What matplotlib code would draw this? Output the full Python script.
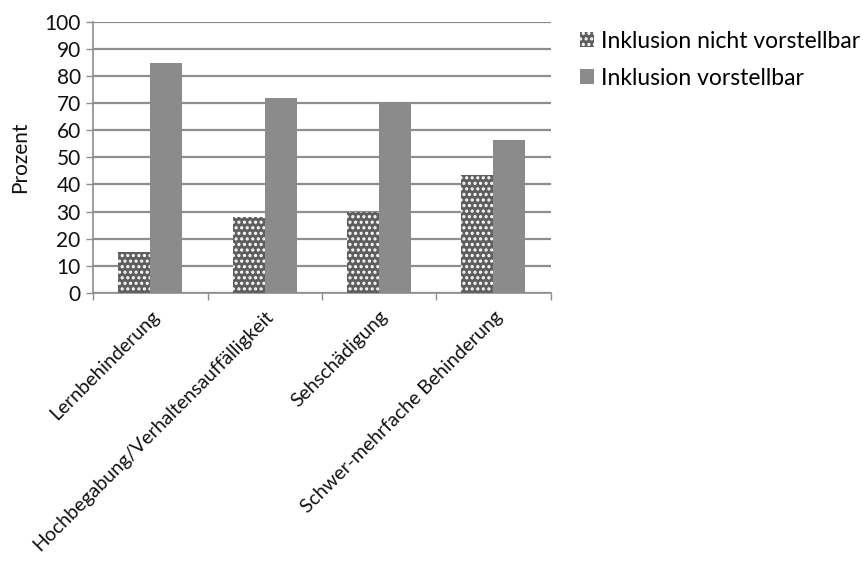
import matplotlib
matplotlib.use("Agg")
import matplotlib.pyplot as plt
import numpy as np

# ── Colours ────────────────────────────────────────────────────────────────────
GRID   = "#8e8e8e"
SOLID  = "#8b8b8b"
CHECK  = "#5e5e5e"
TEXT   = "#111111"

plt.rcParams.update({
    "font.family":      ["Lato", "DejaVu Sans"],
    "font.size":        15,
    "hatch.linewidth":  1.5,
    "axes.edgecolor":   GRID,
})

# ── Data ───────────────────────────────────────────────────────────────────────
categories = [
    "Lernbehinderung",
    "Hochbegabung/Verhaltensauffälligkeit",
    "Sehschädigung",
    "Schwer-mehrfache Behinderung",
]
nicht_vorstellbar = [15, 28, 30, 43.5]
vorstellbar       = [85, 72, 70, 56.5]
series_labels = ["Inklusion nicht vorstellbar", "Inklusion vorstellbar"]
y_ticks = list(range(0, 101, 10))

fig = plt.figure(figsize=(8.63, 5.63), dpi=100)
ax = fig.add_axes([0.108, 0.480, 0.530, 0.481])

x = np.arange(len(categories))
width = 0.28

ax.bar(x - width / 2, nicht_vorstellbar, width, color=CHECK,
       edgecolor="white", linewidth=0, hatch="...", zorder=3,
       label=series_labels[0])
ax.bar(x + width / 2, vorstellbar, width, color=SOLID,
       linewidth=0, zorder=3, label=series_labels[1])

ax.set_xlim(-0.5, len(categories) - 0.5)
ax.set_ylim(0, 100)
ax.set_yticks(y_ticks)
ax.yaxis.grid(True, color=GRID, linewidth=1.6, zorder=0)
ax.tick_params(axis="y", length=5, width=1, color=GRID, pad=4,
               labelcolor=TEXT)

# category boundaries carry the x ticks, labels sit at the centres
ax.set_xticks(np.arange(len(categories) + 1) - 0.5)
ax.set_xticklabels([])
ax.set_xticks(x, minor=True)
ax.set_xticklabels(categories, minor=True, rotation=45, ha="right",
                   rotation_mode="anchor", color=TEXT, fontsize=14)
ax.tick_params(axis="x", which="major", length=5, width=1, color=GRID)
ax.tick_params(axis="x", which="minor", length=0, pad=11)

for side in ("top", "right"):
    ax.spines[side].set_visible(False)
ax.spines["left"].set_linewidth(1.2)
ax.spines["bottom"].set_linewidth(1.2)

ax.set_ylabel("Prozent", color=TEXT, labelpad=10)

ax.legend(loc="upper left", bbox_to_anchor=(0.662, 0.962),
          bbox_transform=fig.transFigure, frameon=False, fontsize=16.5,
          handlelength=0.6, handleheight=0.6, handletextpad=0.3,
          labelspacing=0.7, borderaxespad=0)

fig.savefig("out.png", dpi=100)
